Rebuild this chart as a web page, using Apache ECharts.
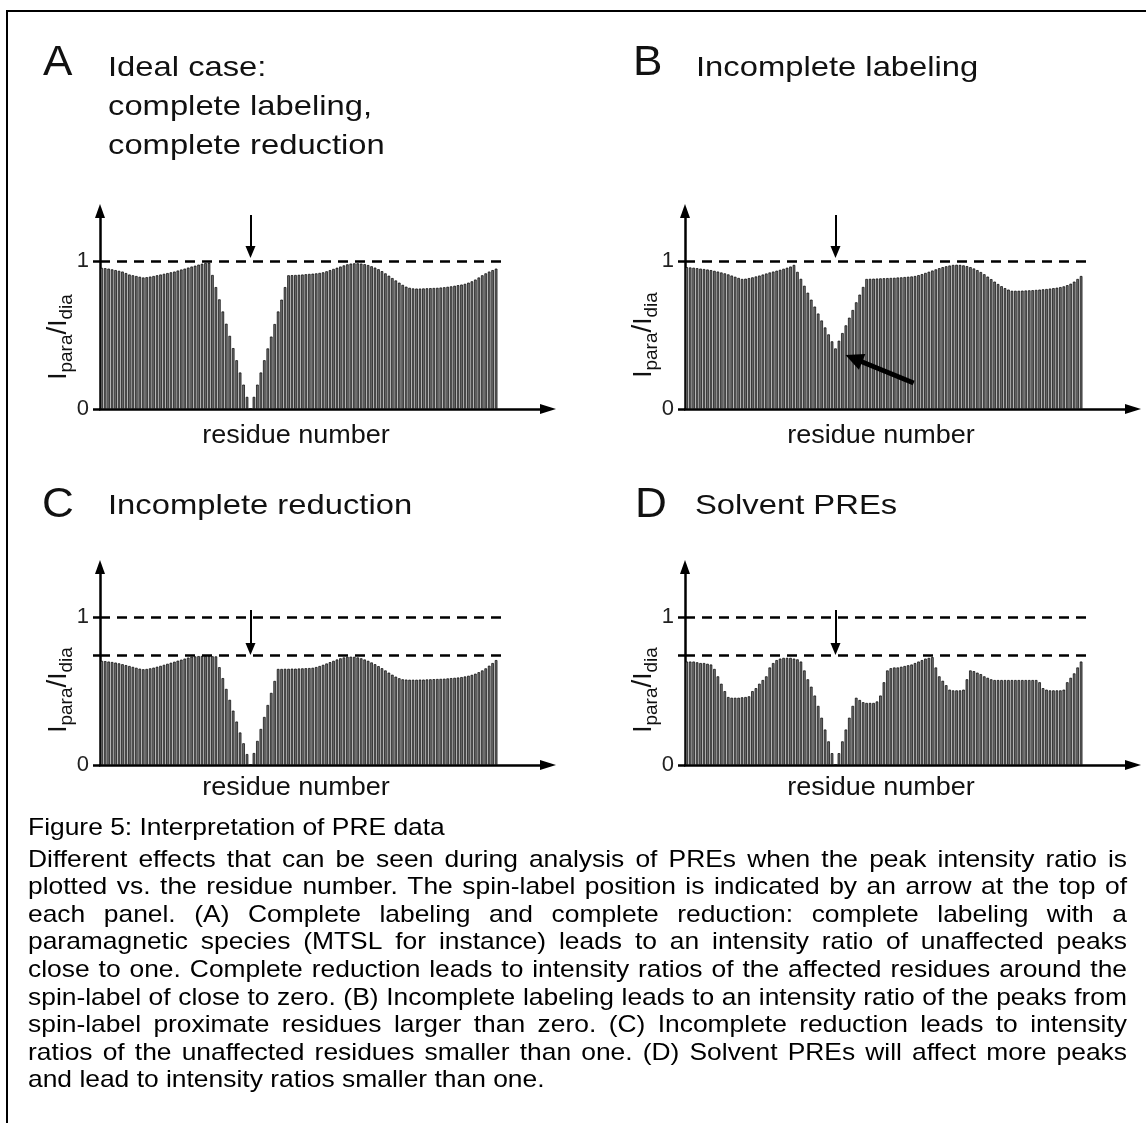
<!DOCTYPE html>
<html>
<head>
<meta charset="utf-8">
<title>Interpretation of PRE data</title>
<script src="https://cdn.jsdelivr.net/npm/echarts@6/dist/echarts.min.js"></script>
<style>
  html, body { margin: 0; padding: 0; background: #ffffff; }
  #chart { width: 1146px; height: 1123px; }
</style>
</head>
<body>
<div id="chart"></div>
<script>
// Peak intensity ratio I_para / I_dia for residues 1..115 in each scenario
const idealCase = [
  0.955, 0.953, 0.95, 0.945, 0.94, 0.935, 0.93, 0.92, 0.91, 0.905,
  0.90, 0.895, 0.89, 0.892, 0.896, 0.90, 0.905, 0.91, 0.915, 0.92,
  0.925, 0.93, 0.937, 0.944, 0.95, 0.957, 0.964, 0.97, 0.977, 0.983,
  0.988, 0.99, 0.907, 0.825, 0.742, 0.66, 0.577, 0.495, 0.412, 0.33,
  0.247, 0.165, 0.082, 0.0, 0.082, 0.165, 0.247, 0.33, 0.41, 0.49,
  0.575, 0.66, 0.74, 0.825, 0.905, 0.906, 0.907, 0.908, 0.91, 0.912,
  0.914, 0.916, 0.918, 0.921, 0.925, 0.932, 0.94, 0.948, 0.956, 0.964,
  0.972, 0.979, 0.984, 0.986, 0.986, 0.984, 0.98, 0.974, 0.966, 0.957,
  0.946, 0.933, 0.918, 0.902, 0.886, 0.87, 0.855, 0.84, 0.828, 0.82,
  0.816, 0.815, 0.815, 0.816, 0.817, 0.818, 0.819, 0.82, 0.822, 0.824,
  0.827, 0.83, 0.834, 0.838, 0.842, 0.847, 0.855, 0.864, 0.876, 0.89,
  0.905, 0.918, 0.93, 0.94, 0.95
];
const incompleteLabeling = [
  0.96, 0.958, 0.956, 0.953, 0.95, 0.947, 0.944, 0.94, 0.935, 0.93,
  0.924, 0.918, 0.911, 0.903, 0.895, 0.887, 0.88, 0.882, 0.886, 0.891,
  0.897, 0.903, 0.91, 0.917, 0.924, 0.93, 0.936, 0.942, 0.949, 0.956,
  0.964, 0.975, 0.928, 0.881, 0.834, 0.787, 0.74, 0.693, 0.646, 0.599,
  0.552, 0.505, 0.458, 0.41, 0.462, 0.514, 0.566, 0.618, 0.67, 0.722,
  0.774, 0.826, 0.88, 0.881, 0.882, 0.883, 0.884, 0.885, 0.886, 0.887,
  0.888, 0.89, 0.891, 0.893, 0.895, 0.897, 0.90, 0.906, 0.913, 0.921,
  0.929, 0.937, 0.945, 0.953, 0.96, 0.966, 0.971, 0.975, 0.976, 0.975,
  0.972, 0.967, 0.96, 0.951, 0.94, 0.927, 0.912, 0.896, 0.879, 0.862,
  0.846, 0.831, 0.818, 0.808, 0.80, 0.80, 0.80, 0.801, 0.802, 0.803,
  0.804, 0.806, 0.808, 0.81, 0.812, 0.815, 0.818, 0.821, 0.825, 0.83,
  0.838, 0.848, 0.862, 0.88, 0.90
];
const incompleteReduction = [
  0.705, 0.703, 0.70, 0.697, 0.693, 0.688, 0.682, 0.676, 0.67, 0.664,
  0.658, 0.652, 0.648, 0.65, 0.654, 0.659, 0.665, 0.671, 0.678, 0.685,
  0.692, 0.699, 0.706, 0.713, 0.72, 0.727, 0.733, 0.735, 0.737, 0.738,
  0.738, 0.737, 0.736, 0.735, 0.662, 0.588, 0.515, 0.441, 0.368, 0.294,
  0.22, 0.147, 0.074, 0.0, 0.081, 0.163, 0.244, 0.325, 0.406, 0.488,
  0.569, 0.65, 0.65, 0.651, 0.651, 0.652, 0.652, 0.653, 0.654, 0.655,
  0.656, 0.658, 0.663, 0.67, 0.678, 0.687, 0.696, 0.705, 0.714, 0.722,
  0.728, 0.732, 0.733, 0.732, 0.728, 0.722, 0.714, 0.705, 0.694, 0.682,
  0.669, 0.655, 0.64, 0.625, 0.611, 0.598, 0.587, 0.58, 0.578, 0.577,
  0.577, 0.577, 0.578, 0.578, 0.579, 0.58, 0.581, 0.582, 0.583, 0.584,
  0.586, 0.588, 0.59, 0.592, 0.595, 0.599, 0.604, 0.61, 0.618, 0.628,
  0.64, 0.654, 0.672, 0.69, 0.71
];
const solventPREs = [
  0.70, 0.70, 0.70, 0.695, 0.69, 0.69, 0.685, 0.68, 0.65, 0.60,
  0.55, 0.50, 0.46, 0.455, 0.455, 0.455, 0.458, 0.46, 0.465, 0.50,
  0.52, 0.55, 0.575, 0.60, 0.66, 0.69, 0.71, 0.72, 0.725, 0.725,
  0.725, 0.72, 0.715, 0.70, 0.64, 0.58, 0.53, 0.47, 0.40, 0.32,
  0.24, 0.16, 0.08, 0.0, 0.08, 0.16, 0.24, 0.32, 0.40, 0.455,
  0.44, 0.425, 0.42, 0.42, 0.42, 0.43, 0.47, 0.56, 0.64, 0.655,
  0.66, 0.66, 0.665, 0.67, 0.675, 0.68, 0.69, 0.70, 0.71, 0.72,
  0.725, 0.73, 0.66, 0.60, 0.57, 0.54, 0.51, 0.505, 0.505, 0.505,
  0.51, 0.58, 0.64, 0.635, 0.625, 0.615, 0.60, 0.59, 0.58, 0.575,
  0.575, 0.575, 0.575, 0.575, 0.575, 0.575, 0.575, 0.575, 0.575, 0.575,
  0.575, 0.575, 0.56, 0.52, 0.51, 0.505, 0.505, 0.505, 0.505, 0.51,
  0.56, 0.59, 0.62, 0.66, 0.70
];

const spinLabelResidue = 44;   // residue carrying the spin label
const fullRatio = 1;           // ratio expected for unaffected peaks
const reducedPlateau = 0.74;   // unaffected level when reduction is incomplete
const yTickValues = [0, 1];

const panelLetters = ['A', 'B', 'C', 'D'];
const panelTitles = [
  ['Ideal case:', 'complete labeling,', 'complete reduction'],
  ['Incomplete labeling'],
  ['Incomplete reduction'],
  ['Solvent PREs']
];
const xAxisTitle = 'residue number';
const yNameParts = [['I', 'main'], ['para', 'sub'], ['/', 'slash'], ['I', 'main'], ['dia', 'sub']];

const captionLines = [
  'Figure 5: Interpretation of PRE data',
  'Different effects that can be seen during analysis of PREs when the peak intensity ratio is',
  'plotted vs. the residue number. The spin-label position is indicated by an arrow at the top of',
  'each panel. (A) Complete labeling and complete reduction: complete labeling with a',
  'paramagnetic species (MTSL for instance) leads to an intensity ratio of unaffected peaks',
  'close to one. Complete reduction leads to intensity ratios of the affected residues around the',
  'spin-label of close to zero. (B) Incomplete labeling leads to an intensity ratio of the peaks from',
  'spin-label proximate residues larger than zero. (C) Incomplete reduction leads to intensity',
  'ratios of the unaffected residues smaller than one. (D) Solvent PREs will affect more peaks',
  'and lead to intensity ratios smaller than one.'
];

// ---- layout -------------------------------------------------------------
const FONT = "'Liberation Sans', Arial, Helvetica, sans-serif";
const INK = '#111111';
const MID = 0.35;          // canvas "middle" baseline sits ~0.35em above the alphabetic one
const X_MIN = 0.5, X_MAX = 130, Y_MAX = 1.34;
const GRID_W = 448, GRID_H = 198;

const panels = [
  { values: idealCase,           left: 100, top: 211, plateau: null,
    letter: [43, 78],  title: [108, 78],  yName: [68, 337],  xTitle: [296, 445] },
  { values: incompleteLabeling,  left: 685, top: 211, plateau: null,
    letter: [633, 78], title: [696, 78],  yName: [653, 335], xTitle: [881, 445] },
  { values: incompleteReduction, left: 100, top: 567, plateau: reducedPlateau,
    letter: [42, 520], title: [108, 516], yName: [68, 690],  xTitle: [296, 797] },
  { values: solventPREs,         left: 685, top: 567, plateau: reducedPlateau,
    letter: [635, 520], title: [695, 516], yName: [653, 690], xTitle: [881, 797] }
];

const measureCtx = document.createElement('canvas').getContext('2d');
function textWidth(str, size) {
  measureCtx.font = size + 'px ' + FONT;
  return measureCtx.measureText(str).width;
}
function textStyle(text, size, align) {
  return { text: text, fontSize: size, fontFamily: FONT, fill: INK,
           align: align || 'left', verticalAlign: 'middle' };
}
// text positioned by its alphabetic baseline
function baselineText(str, x, base, size, scaleX, align) {
  return { type: 'text', x: x, y: base - MID * size, scaleX: scaleX, silent: true,
           style: textStyle(str, size, align) };
}

const grids = [], xAxes = [], yAxes = [], series = [], graphics = [];

// figure frame (top and left rules)
graphics.push({
  type: 'polyline', silent: true,
  shape: { points: [[1146, 11], [7, 11], [7, 1123]] },
  style: { stroke: '#000', lineWidth: 2, fill: null }
});

const axisLineStyle = { color: '#000', width: 2.5 };

panels.forEach(function (p, k) {
  grids.push({ left: p.left, top: p.top, width: GRID_W, height: GRID_H });

  xAxes.push({
    type: 'value', gridIndex: k, min: X_MIN, max: X_MAX,
    axisLine: { show: true, onZero: true, lineStyle: axisLineStyle,
                symbol: ['none', 'triangle'], symbolSize: [10, 16] },
    axisTick: { show: false }, axisLabel: { show: false }, splitLine: { show: false }
  });

  const tickValues = p.plateau == null ? yTickValues : [0, p.plateau, 1];
  yAxes.push({
    type: 'value', gridIndex: k, min: 0, max: Y_MAX,
    axisLine: { show: true, lineStyle: axisLineStyle,
                symbol: ['none', 'triangle'], symbolSize: [10, 14] },
    axisTick: { show: true, length: 7, lineStyle: { color: '#000', width: 2.5 },
                customValues: tickValues },
    axisLabel: { show: true, customValues: yTickValues, margin: 11,
                 fontSize: 22, fontFamily: FONT, color: '#222' },
    splitLine: { show: false }
  });

  const dashed = { type: [10, 7], width: 2.5, color: '#000' };
  const solid = { type: 'solid', width: 2, color: '#000' };
  const marks = [
    [{ coord: [X_MIN, fullRatio], lineStyle: dashed }, { coord: [117.5, fullRatio] }]
  ];
  if (p.plateau != null) {
    marks.push([{ coord: [X_MIN, p.plateau], lineStyle: dashed }, { coord: [117.5, p.plateau] }]);
    // spin-label position, pointing at the lowered plateau
    marks.push([{ coord: [spinLabelResidue, 1.049], lineStyle: solid },
                { coord: [spinLabelResidue, 0.785], symbol: 'triangle', symbolSize: [10, 12] }]);
  } else {
    marks.push([{ coord: [spinLabelResidue, 1.313], lineStyle: solid },
                { coord: [spinLabelResidue, 1.062], symbol: 'triangle', symbolSize: [10, 12] }]);
  }
  if (k === 1) {
    // residual intensity of the spin-label proximate residues
    marks.push([{ coord: [66.6, 0.176], lineStyle: { type: 'solid', width: 5, color: '#000' } },
                { coord: [49.3, 0.342], symbol: 'triangle', symbolSize: [17, 18] }]);
  }

  series.push({
    type: 'bar', xAxisIndex: k, yAxisIndex: k,
    data: p.values.map(function (v, i) { return [i + 1, v]; }),
    barWidth: 2.6,
    itemStyle: { color: '#6f6f6f', borderColor: '#000000', borderWidth: 0.7 },
    silent: true, animation: false,
    markLine: { silent: true, animation: false, symbol: ['none', 'none'],
                label: { show: false }, emphasis: { disabled: true }, data: marks }
  });

  // panel letter and heading
  graphics.push(baselineText(panelLetters[k], p.letter[0], p.letter[1], 42, 1.05));
  panelTitles[k].forEach(function (line, j) {
    graphics.push(baselineText(line, p.title[0], p.title[1] + j * 39, 28, 1.17));
  });

  // x axis title
  graphics.push(baselineText(xAxisTitle, p.xTitle[0], p.xTitle[1], 25, 1.08, 'center'));

  // y axis title I_para / I_dia, reading upwards
  const sizes = { main: 26, sub: 19, slash: 28 };
  const drop = { main: 0, sub: 5, slash: 0 };
  let run = 0;
  const parts = yNameParts.map(function (part) {
    const size = sizes[part[1]];
    const item = { t: part[0], size: size, x: run, base: drop[part[1]] };
    run += textWidth(part[0], size);
    return item;
  });
  graphics.push({
    type: 'group', x: p.yName[0], y: p.yName[1], rotation: Math.PI / 2, silent: true,
    children: parts.map(function (it) {
      return { type: 'text', x: it.x - run / 2, y: it.base - MID * it.size, silent: true,
               style: textStyle(it.t, it.size) };
    })
  });
});

// caption, justified line by line
const CAP_SIZE = 24, CAP_SCALE = 1.1, CAP_X0 = 28, CAP_X1 = 1127;
captionLines.forEach(function (line, k) {
  const y = k === 0 ? 828 : 860 + (k - 1) * 27.6;
  const words = line.split(' ');
  const widths = words.map(function (w) { return textWidth(w, CAP_SIZE) * CAP_SCALE; });
  const total = widths.reduce(function (a, b) { return a + b; }, 0);
  const justify = k > 0 && k < captionLines.length - 1;
  const gap = justify ? (CAP_X1 - CAP_X0 - total) / (words.length - 1)
                      : textWidth(' ', CAP_SIZE) * CAP_SCALE;
  let x = CAP_X0;
  words.forEach(function (w, j) {
    graphics.push({ type: 'text', x: x, y: y, scaleX: CAP_SCALE, silent: true,
                    style: Object.assign(textStyle(w, CAP_SIZE), { fill: '#000' }) });
    x += widths[j] + gap;
  });
});

const chart = echarts.init(document.getElementById('chart'));
chart.setOption({
  animation: false,
  backgroundColor: '#ffffff',
  grid: grids,
  xAxis: xAxes,
  yAxis: yAxes,
  series: series,
  graphic: { elements: graphics }
});
</script>
</body>
</html>
